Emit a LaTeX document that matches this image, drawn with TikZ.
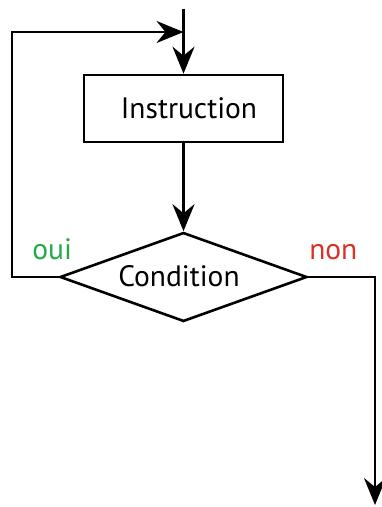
\documentclass[tikz,border=0pt]{standalone}
\usepackage{fontspec}
\setmainfont{PT Sans}
\usetikzlibrary{arrows.meta,shapes.geometric}
\definecolor{ouigreen}{RGB}{34,170,72}
\definecolor{nonred}{RGB}{218,48,38}
\begin{document}
\begin{tikzpicture}[x=1pt,y=-1pt,
  line width=2.6pt,
  >={Stealth[length=27pt,width=22pt,inset=9pt]},
  flowarrow/.style={->},
  lbl/.style={font=\fontsize{29.5}{34}\selectfont},
  ]
\useasboundingbox (0,0) rectangle (381,507);
\node[draw, minimum width=199pt, minimum height=67pt, inner sep=0pt] (instr) at (183.5,108.5) {};
\node[lbl, inner sep=0pt] (instrtxt) at (189,108.5) {Instruction};
\node[draw, diamond, aspect=2.8, minimum width=247pt, minimum height=89pt, inner sep=0pt] (cond) at (183.5,277) {};
\node[lbl, inner sep=0pt] (condtxt) at (179,276) {Condition};
\coordinate (start) at (183.5,9);
\coordinate (join) at (183.5,32);
\coordinate (lt) at (12,32);
\coordinate (lb) at (12,277);
\coordinate (rt) at (375,277);
\coordinate (end) at (375,505);
\draw (start) -- (join);
\draw[flowarrow] (join) -- (instr.north);
\draw[flowarrow] (instr.south) -- (cond.north);
\draw[flowarrow] (cond.west) -- (lb) -- (lt) -- (join);
\draw[flowarrow] (cond.east) -- (rt) -- (end);
\node[lbl, text=ouigreen, anchor=base west, inner sep=0pt] (oui) at (31,259) {oui};
\node[lbl, text=nonred, anchor=base west, inner sep=0pt] (non) at (308,259) {non};
\end{tikzpicture}
\end{document}
